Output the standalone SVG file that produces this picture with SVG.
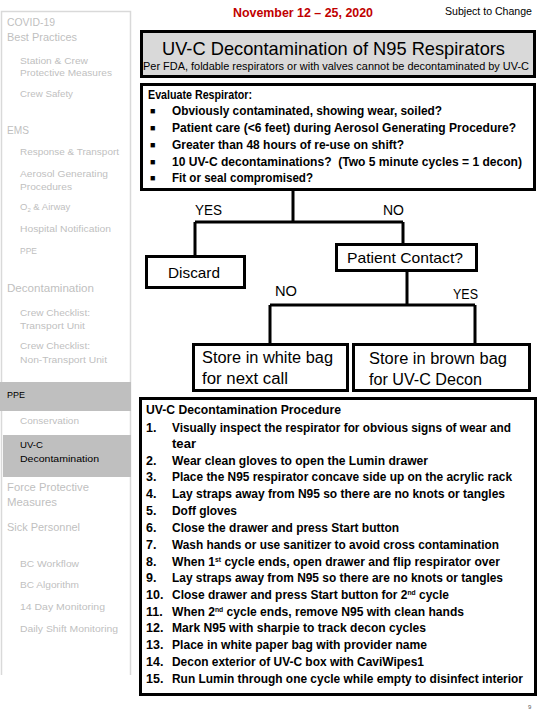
<svg xmlns="http://www.w3.org/2000/svg" width="540" height="720" viewBox="0 0 540 720">
<style>
.sb{font-family:"Liberation Sans",Arial,sans-serif;fill:#bfbfbf}
.h{font-size:11px}
.s{font-size:9.5px}
.blk{fill:#000}
.box{fill:#fff;stroke:#000;stroke-width:3}
.t{font-family:"Liberation Sans",Arial,sans-serif;fill:#000}
.b{font-weight:bold;font-size:12.5px}
.bul{font-size:9px}
.sup{font-size:7px}
.lbl{font-size:14px}
.con{fill:none;stroke:#000;stroke-width:3}
</style>
<rect width="540" height="720" fill="#fff"/>
<g id="sidebar">
<path d="M1.5,675 V11.5 H130.5 V675" fill="none" stroke="#d9d9d9" stroke-width="1.5"/>
<rect x="0" y="382" width="131" height="29" fill="#bfbfbf"/>
<rect x="3" y="435" width="128" height="42" fill="#bfbfbf"/>
<text class="sb h" x="7" y="26" textLength="48" lengthAdjust="spacingAndGlyphs">COVID-19</text>
<text class="sb h" x="7" y="41" textLength="70" lengthAdjust="spacingAndGlyphs">Best Practices</text>
<text class="sb s" x="20" y="64" textLength="68" lengthAdjust="spacingAndGlyphs">Station &amp; Crew</text>
<text class="sb s" x="20" y="76" textLength="92" lengthAdjust="spacingAndGlyphs">Protective Measures</text>
<text class="sb s" x="20" y="97" textLength="53" lengthAdjust="spacingAndGlyphs">Crew Safety</text>
<text class="sb h" x="7" y="134" textLength="22" lengthAdjust="spacingAndGlyphs">EMS</text>
<text class="sb s" x="20" y="155" textLength="99" lengthAdjust="spacingAndGlyphs">Response &amp; Transport</text>
<text class="sb s" x="20" y="177" textLength="88" lengthAdjust="spacingAndGlyphs">Aerosol Generating</text>
<text class="sb s" x="20" y="190" textLength="52" lengthAdjust="spacingAndGlyphs">Procedures</text>
<text class="sb s" x="20" y="210">O<tspan font-size="6" dy="2">2</tspan><tspan dy="-2"> &amp; Airway</tspan></text>
<text class="sb s" x="20" y="232" textLength="91" lengthAdjust="spacingAndGlyphs">Hospital Notification</text>
<text class="sb s" x="20" y="254" textLength="17" lengthAdjust="spacingAndGlyphs">PPE</text>
<text class="sb h" x="7" y="292" textLength="87" lengthAdjust="spacingAndGlyphs">Decontamination</text>
<text class="sb s" x="20" y="316" textLength="70" lengthAdjust="spacingAndGlyphs">Crew Checklist:</text>
<text class="sb s" x="20" y="329" textLength="65" lengthAdjust="spacingAndGlyphs">Transport Unit</text>
<text class="sb s" x="20" y="349" textLength="70" lengthAdjust="spacingAndGlyphs">Crew Checklist:</text>
<text class="sb s" x="20" y="363" textLength="87" lengthAdjust="spacingAndGlyphs">Non-Transport Unit</text>
<text class="sb s blk" x="7" y="398" textLength="18" lengthAdjust="spacingAndGlyphs">PPE</text>
<text class="sb s" x="20" y="424" textLength="59" lengthAdjust="spacingAndGlyphs">Conservation</text>
<text class="sb s blk" x="20" y="448" textLength="23" lengthAdjust="spacingAndGlyphs">UV-C</text>
<text class="sb s blk" x="20" y="462" textLength="79" lengthAdjust="spacingAndGlyphs">Decontamination</text>
<text class="sb h" x="7" y="491" textLength="82" lengthAdjust="spacingAndGlyphs">Force Protective</text>
<text class="sb h" x="7" y="506" textLength="50" lengthAdjust="spacingAndGlyphs">Measures</text>
<text class="sb h" x="7" y="531" textLength="73" lengthAdjust="spacingAndGlyphs">Sick Personnel</text>
<text class="sb s" x="20" y="567" textLength="59" lengthAdjust="spacingAndGlyphs">BC Workflow</text>
<text class="sb s" x="20" y="588" textLength="59" lengthAdjust="spacingAndGlyphs">BC Algorithm</text>
<text class="sb s" x="20" y="610" textLength="85" lengthAdjust="spacingAndGlyphs">14 Day Monitoring</text>
<text class="sb s" x="20" y="632" textLength="98" lengthAdjust="spacingAndGlyphs">Daily Shift Monitoring</text>
</g>
<g id="header">
<text class="t" x="233" y="17" font-size="12.5" font-weight="bold" style="fill:#c00000" textLength="140" lengthAdjust="spacingAndGlyphs">November 12 – 25, 2020</text>
<text class="t" x="445" y="15" font-size="10.5" textLength="87" lengthAdjust="spacingAndGlyphs">Subject to Change</text>
</g>
<g id="title">
<rect x="141.5" y="31.5" width="393" height="45" fill="#d9d9d9" stroke="#000" stroke-width="3"/>
<text class="t" x="162" y="55" font-size="19" textLength="343" lengthAdjust="spacingAndGlyphs">UV-C Decontamination of N95 Respirators</text>
<text class="t" x="143" y="70" font-size="10.5" textLength="386" lengthAdjust="spacingAndGlyphs">Per FDA, foldable respirators or with valves cannot be decontaminated by UV-C</text>
</g>
<g id="connectors">
<path class="con" d="M293,190 V222 M195,222 H403 M195,222 V256 M403,222 V244"/>
<path class="con" d="M407,270 V305 M270,305 H475 M270,305 V344 M475,305 V344"/>
</g>
<g id="evaluate">
<rect class="box" x="141.5" y="84.5" width="393" height="105"/>
<text class="t b" x="148" y="99" textLength="104" lengthAdjust="spacingAndGlyphs">Evaluate Respirator:</text>
<g class="t b">
<text class="bul" x="150" y="114">■</text><text x="172" y="115" textLength="270" lengthAdjust="spacingAndGlyphs">Obviously contaminated, showing wear, soiled?</text>
<text class="bul" x="150" y="131">■</text><text x="172" y="132" textLength="344" lengthAdjust="spacingAndGlyphs">Patient care (&lt;6 feet) during Aerosol Generating Procedure?</text>
<text class="bul" x="150" y="148">■</text><text x="172" y="149" textLength="232" lengthAdjust="spacingAndGlyphs">Greater than 48 hours of re-use on shift?</text>
<text class="bul" x="150" y="165">■</text><text x="172" y="166" textLength="350" lengthAdjust="spacingAndGlyphs" xml:space="preserve">10 UV-C decontaminations?  (Two 5 minute cycles = 1 decon)</text>
<text class="bul" x="150" y="181">■</text><text x="172" y="182" textLength="141" lengthAdjust="spacingAndGlyphs">Fit or seal compromised?</text>
</g>
</g>
<g id="yes1"><text class="t lbl" x="195" y="215" textLength="27" lengthAdjust="spacingAndGlyphs">YES</text></g>
<g id="no1"><text class="t lbl" x="383" y="215" textLength="21" lengthAdjust="spacingAndGlyphs">NO</text></g>
<g id="discard">
<rect class="box" x="146.5" y="256.5" width="98" height="31"/>
<text class="t" x="168" y="278" font-size="15" textLength="52" lengthAdjust="spacingAndGlyphs">Discard</text>
</g>
<g id="patient-contact">
<rect class="box" x="336.5" y="244.5" width="140" height="26"/>
<text class="t" x="347" y="263" font-size="15" textLength="116" lengthAdjust="spacingAndGlyphs">Patient Contact?</text>
</g>
<g id="no2"><text class="t lbl" x="275" y="296" textLength="22" lengthAdjust="spacingAndGlyphs">NO</text></g>
<g id="yes2"><text class="t lbl" x="453" y="299" textLength="25" lengthAdjust="spacingAndGlyphs">YES</text></g>
<g id="white-bag">
<rect class="box" x="193.5" y="344.5" width="154" height="46"/>
<text class="t" x="202" y="363" font-size="16" textLength="131" lengthAdjust="spacingAndGlyphs">Store in white bag</text>
<text class="t" x="202" y="384" font-size="16" textLength="86" lengthAdjust="spacingAndGlyphs">for next call</text>
</g>
<g id="brown-bag">
<rect class="box" x="353.5" y="344.5" width="176" height="46"/>
<text class="t" x="369" y="364" font-size="16" textLength="138" lengthAdjust="spacingAndGlyphs">Store in brown bag</text>
<text class="t" x="369" y="385" font-size="16" textLength="113" lengthAdjust="spacingAndGlyphs">for UV-C Decon</text>
</g>
<g id="procedure">
<rect class="box" x="140.5" y="398.5" width="395" height="296"/>
<g class="t b">
<text x="146" y="414" textLength="195" lengthAdjust="spacingAndGlyphs">UV-C Decontamination Procedure</text>
<text x="146" y="432">1.</text><text x="172" y="432" textLength="339" lengthAdjust="spacingAndGlyphs">Visually inspect the respirator for obvious signs of wear and</text>
<text x="172" y="448" textLength="24" lengthAdjust="spacingAndGlyphs">tear</text>
<text x="146" y="465">2.</text><text x="172" y="465" textLength="256" lengthAdjust="spacingAndGlyphs">Wear clean gloves to open the Lumin drawer</text>
<text x="146" y="481">3.</text><text x="172" y="481" textLength="340" lengthAdjust="spacingAndGlyphs">Place the N95 respirator concave side up on the acrylic rack</text>
<text x="146" y="498">4.</text><text x="172" y="498" textLength="333" lengthAdjust="spacingAndGlyphs">Lay straps away from N95 so there are no knots or tangles</text>
<text x="146" y="515">5.</text><text x="172" y="515" textLength="65" lengthAdjust="spacingAndGlyphs">Doff gloves</text>
<text x="146" y="532">6.</text><text x="172" y="532" textLength="227" lengthAdjust="spacingAndGlyphs">Close the drawer and press Start button</text>
<text x="146" y="549">7.</text><text x="172" y="549" textLength="327" lengthAdjust="spacingAndGlyphs">Wash hands or use sanitizer to avoid cross contamination</text>
<text x="146" y="566">8.</text><text x="172" y="566" textLength="328" lengthAdjust="spacingAndGlyphs">When 1<tspan class="sup" dy="-4">st</tspan><tspan dy="4"> cycle ends, open drawer and flip respirator over</tspan></text>
<text x="146" y="582">9.</text><text x="172" y="582" textLength="331" lengthAdjust="spacingAndGlyphs">Lay straps away from N95 so there are no knots or tangles</text>
<text x="146" y="599">10.</text><text x="172" y="599" textLength="277" lengthAdjust="spacingAndGlyphs">Close drawer and press Start button for 2<tspan class="sup" dy="-4">nd</tspan><tspan dy="4"> cycle</tspan></text>
<text x="146" y="616">11.</text><text x="172" y="616" textLength="292" lengthAdjust="spacingAndGlyphs">When 2<tspan class="sup" dy="-4">nd</tspan><tspan dy="4"> cycle ends, remove N95 with clean hands</tspan></text>
<text x="146" y="632">12.</text><text x="172" y="632" textLength="254" lengthAdjust="spacingAndGlyphs">Mark N95 with sharpie to track decon cycles</text>
<text x="146" y="649">13.</text><text x="172" y="649" textLength="255" lengthAdjust="spacingAndGlyphs">Place in white paper bag with provider name</text>
<text x="146" y="666">14.</text><text x="172" y="666" textLength="252" lengthAdjust="spacingAndGlyphs">Decon exterior of UV-C box with CaviWipes1</text>
<text x="146" y="683">15.</text><text x="172" y="683" textLength="351" lengthAdjust="spacingAndGlyphs">Run Lumin through one cycle while empty to disinfect interior</text>
</g>
</g>
<text class="t" x="528" y="709" font-size="6" style="fill:#595959">9</text>
</svg>
